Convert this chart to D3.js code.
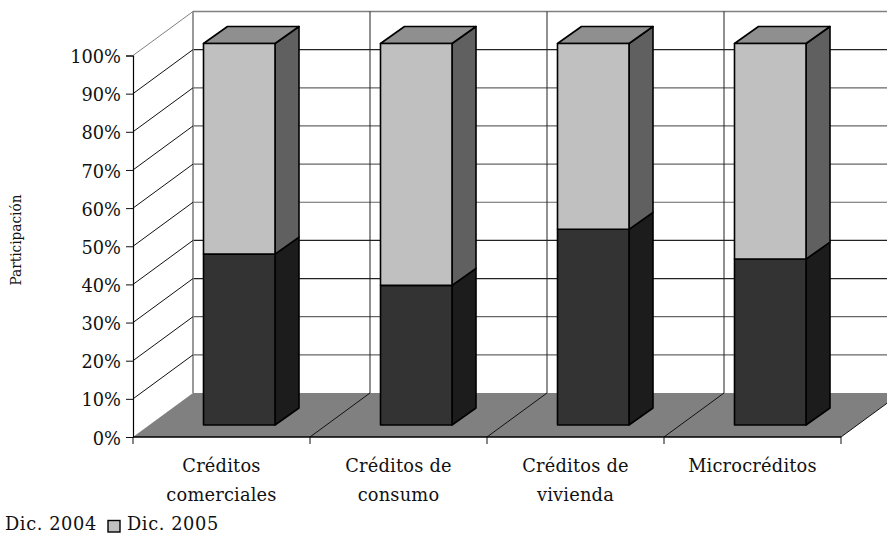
<!DOCTYPE html>
<html><head><meta charset="utf-8">
<script src="https://cdn.jsdelivr.net/npm/d3@7/dist/d3.min.js"></script>
<style>html,body{margin:0;padding:0;background:#fff}svg{display:block}text{font-family:"DejaVu Serif",serif;fill:#111;font-size:17.8px}</style>
</head><body><svg width="887" height="533"></svg>
<script>
const categories = [["Créditos","comerciales"],["Créditos de","consumo"],["Créditos de","vivienda"],["Microcréditos"]];
const dic2004 = [44.8,36.6,51.3,43.5];
const dic2005 = [55.2,63.4,48.7,56.5];
const seriesNames = ["Dic. 2004","Dic. 2005"];
const yTicks = [0,10,20,30,40,50,60,70,80,90,100];

const svg = d3.select("svg");
const W = {dx:60, dy:-44};      // depth of the chart's floor
const B = {dx:24, dy:-17};      // depth of one bar
const barDrop = -12;
const x = d3.scaleBand().domain(d3.range(categories.length)).range([133,841]);
const y = d3.scaleLinear().domain([0,100]).range([437,55.5]);
const barW = 71.5;
const barX = i => x(i) + 70.5;
const barY = v => y(v) + barDrop;

// back wall gridlines
const gridColor = v => (v===100 ? "#808080" : (v===90||v===40||v===30||v===0) ? "#222" : "#666");
svg.append("g").selectAll("line").data(yTicks.filter(v=>v>0)).join("line")
  .attr("x1",133+W.dx).attr("x2",887+20)
  .attr("y1",v=>y(v)+W.dy).attr("y2",v=>y(v)+W.dy)
  .attr("stroke",gridColor).attr("stroke-width",v=>v===100?1.6:1.2);
// back wall verticals
const edges = d3.range(categories.length).map(i=>x(i));
svg.append("g").selectAll("line").data(edges).join("line")
  .attr("x1",d=>d+W.dx).attr("x2",d=>d+W.dx)
  .attr("y1",y(100)+W.dy).attr("y2",y(0)+W.dy)
  .attr("stroke",(d,i)=>i===0?"#808080":"#222").attr("stroke-width",(d,i)=>i===0?1.6:1);
// side wall lines
svg.append("g").selectAll("line").data(yTicks.filter(v=>v>0)).join("line")
  .attr("x1",133).attr("x2",133+W.dx)
  .attr("y1",v=>y(v)).attr("y2",v=>y(v)+W.dy)
  .attr("stroke",v=>v===100?"#808080":"#111").attr("stroke-width",1);
// floor
const right = x.range()[1];
svg.append("polygon")
  .attr("points",[[133,y(0)],[right,y(0)],[right+W.dx,y(0)+W.dy],[133+W.dx,y(0)+W.dy]].join(" "))
  .attr("fill","#808080");
svg.append("g").selectAll("line").data(edges.slice(1).concat([right])).join("line")
  .attr("x1",d=>d).attr("x2",d=>d+W.dx)
  .attr("y1",y(0)).attr("y2",y(0)+W.dy)
  .attr("stroke","#111").attr("stroke-width",1);

// bars
const stacks = categories.map((c,i)=>[
  {i,lo:0,hi:dic2004[i],front:"#333333",side:"#1c1c1c",top:"#333333"},
  {i,lo:dic2004[i],hi:dic2004[i]+dic2005[i],front:"#c0c0c0",side:"#606060",top:"#8f8f8f"}]).flat();
const gb = svg.append("g").attr("stroke","#000").attr("stroke-width",1.6).attr("stroke-linejoin","round");
const bars = gb.selectAll("g").data(stacks).join("g");
bars.append("polygon").attr("fill",d=>d.side)
  .attr("points",d=>[[barX(d.i)+barW,barY(d.hi)],[barX(d.i)+barW+B.dx,barY(d.hi)+B.dy],[barX(d.i)+barW+B.dx,barY(d.lo)+B.dy],[barX(d.i)+barW,barY(d.lo)]].join(" "));
bars.filter(d=>d.lo>0).append("polygon").attr("fill",d=>d.top)
  .attr("points",d=>[[barX(d.i),barY(d.hi)],[barX(d.i)+barW,barY(d.hi)],[barX(d.i)+barW+B.dx,barY(d.hi)+B.dy],[barX(d.i)+B.dx,barY(d.hi)+B.dy]].join(" "));
bars.append("rect").attr("fill",d=>d.front)
  .attr("x",d=>barX(d.i)).attr("width",barW)
  .attr("y",d=>barY(d.hi)).attr("height",d=>barY(d.lo)-barY(d.hi));

// axes
const gy = svg.append("g").attr("transform","translate(133,0)")
  .call(d3.axisLeft(y).tickValues(yTicks).tickFormat(v=>v+"%").tickSize(7).tickPadding(5));
const gx = svg.append("g").attr("transform",`translate(0,${y(0)})`);
gx.append("line").attr("x1",133).attr("x2",right).attr("stroke","#000").attr("stroke-width",1.5);
gx.selectAll(".t").data(edges.concat([right])).join("line").attr("class","t")
  .attr("x1",d=>d).attr("x2",d=>d).attr("y1",0).attr("y2",7).attr("stroke","#111");
gy.selectAll("path").attr("stroke","#000").attr("stroke-width",1.2);
gy.selectAll("line").attr("stroke","#111");
gy.selectAll("text").attr("dy","0.4em").style("font-size","17.8px").style("font-family",'"DejaVu Serif",serif').attr("fill","#111");

// category labels
const lab = svg.append("g").selectAll("text").data(categories).join("text")
  .attr("text-anchor","middle").style("letter-spacing","0.2px");
lab.each(function(lines,i){
  d3.select(this).selectAll("tspan").data(lines).join("tspan")
    .attr("x",x(i)+x.bandwidth()/2).attr("y",(d,k)=>472+k*28.5).text(d=>d);
});

// axis title
svg.append("text").attr("transform","translate(21,240) rotate(-90)").attr("text-anchor","middle")
  .style("font-size","15.5px").attr("textLength",91).attr("lengthAdjust","spacingAndGlyphs").text("Participación");

// legend
svg.append("text").attr("x",5).attr("y",530).style("letter-spacing","0.6px").text(seriesNames[0]);
svg.append("rect").attr("x",108).attr("y",520.5).attr("width",12).attr("height",11.5)
  .attr("fill","#c0c0c0").attr("stroke","#000").attr("stroke-width",1.4);
svg.append("text").attr("x",127).attr("y",530).style("letter-spacing","0.6px").text(seriesNames[1]);
</script></body></html>
